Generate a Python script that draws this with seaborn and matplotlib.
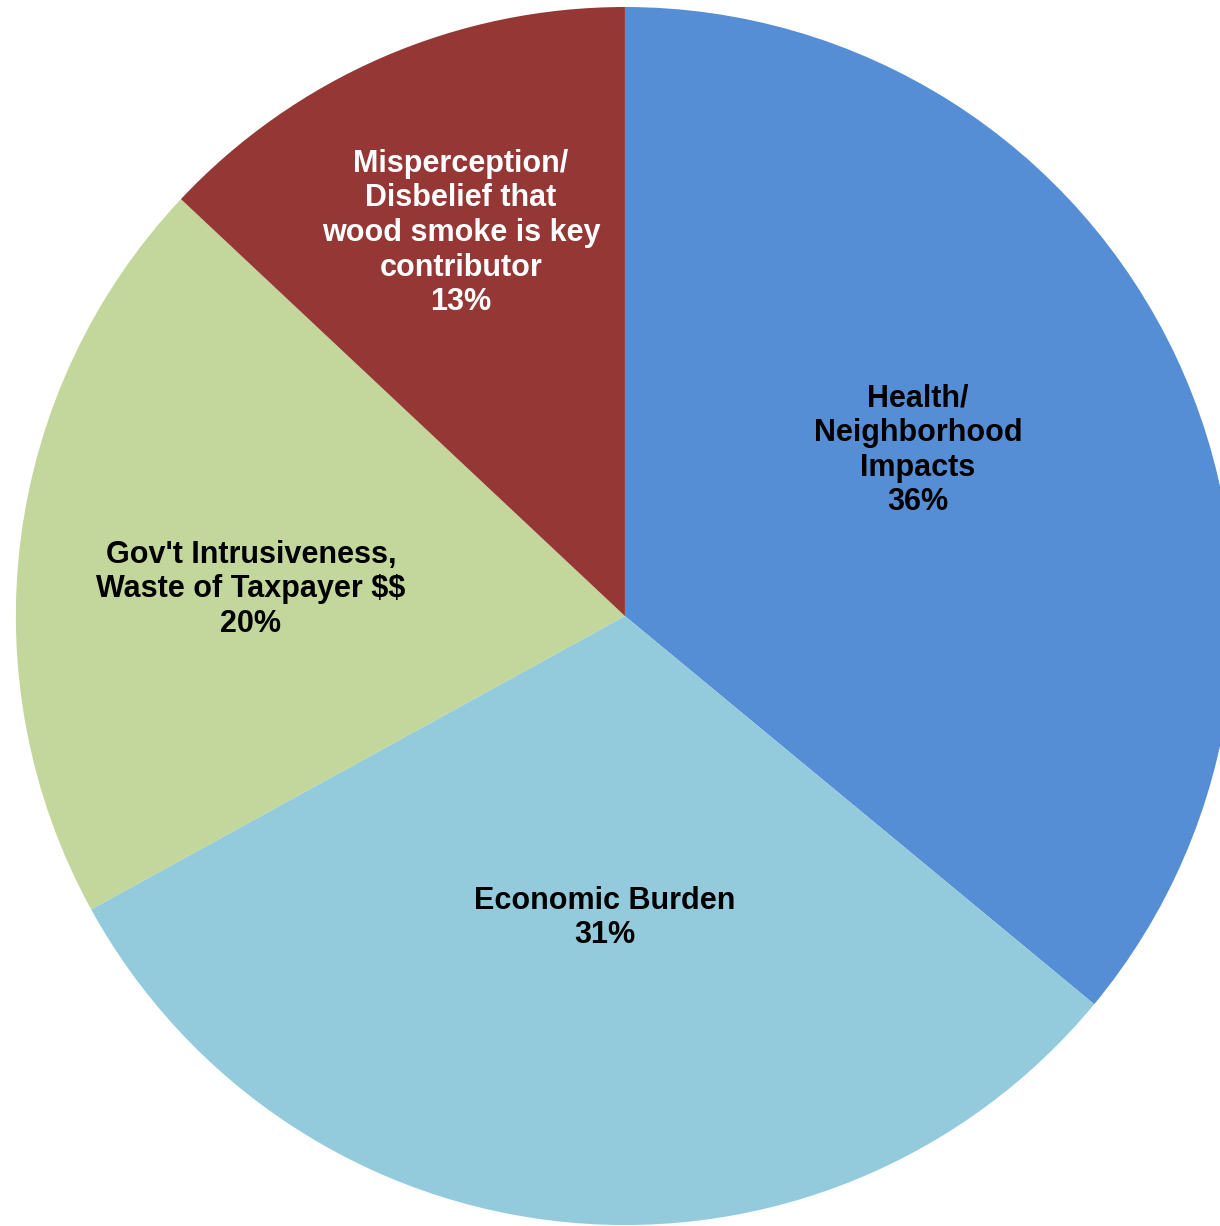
import matplotlib
matplotlib.use("Agg")
import matplotlib.pyplot as plt
import seaborn as sns

categories = ["Health/\nNeighborhood\nImpacts", "Economic Burden",
              "Gov't Intrusiveness,\nWaste of Taxpayer $$",
              "Misperception/\nDisbelief that\nwood smoke is key\ncontributor"]
values = [36, 31, 20, 13]
colors = ["#558ED5", "#93CBDD", "#C3D69B", "#953735"]
text_colors = ["black", "black", "black", "white"]
label_pos = [(0.481, 0.272), (-0.033, -0.496), (-0.614, 0.044), (-0.269, 0.629)]

sns.set_style("white")
plt.rcParams['font.family'] = ['Liberation Sans', 'DejaVu Sans']
plt.rcParams['text.parse_math'] = False

fig = plt.figure(figsize=(12.2, 12.26), dpi=100)
ax = fig.add_axes([0, 0, 1, 1])
ax.pie(values, colors=colors, startangle=90, counterclock=False,
       radius=1, center=(0, 0), wedgeprops=dict(linewidth=0))
ax.set_aspect('auto')
ax.set_xlim(-1.026, 0.977)
ax.set_ylim(-1.0016, 1.0115)
ax.axis('off')

for cat, v, (x, y), tc in zip(categories, values, label_pos, text_colors):
    ax.text(x, y, f"{cat}\n{v}%", ha='center', va='center', fontsize=22,
            fontweight='bold', color=tc, linespacing=1.2, parse_math=False)

fig.savefig("out.png", dpi=100)
